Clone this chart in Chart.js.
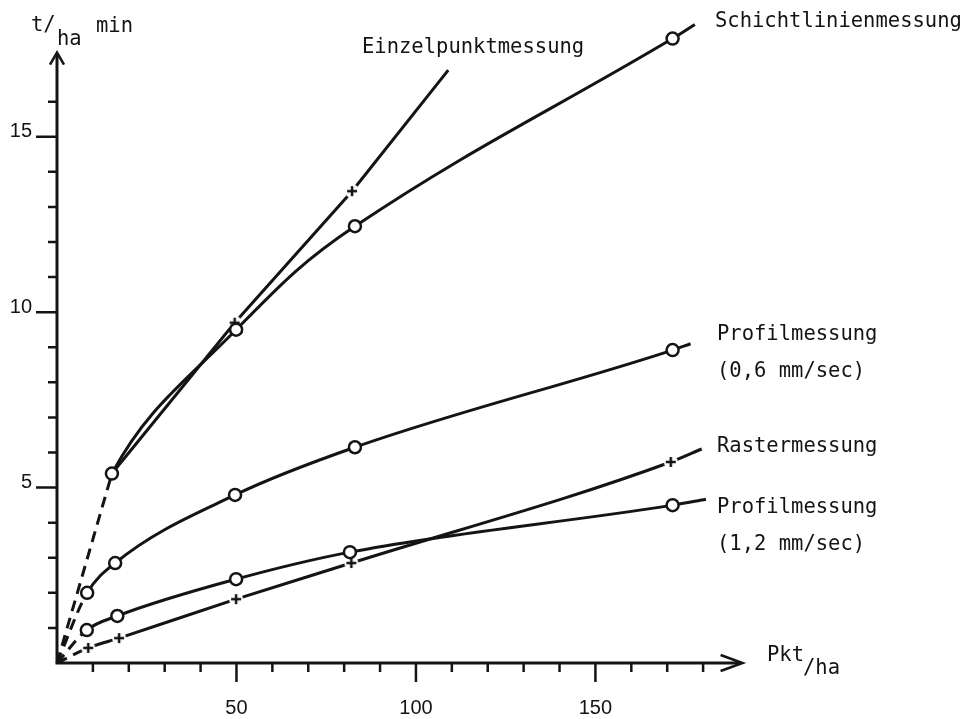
<!DOCTYPE html>
<html>
<head>
<meta charset="utf-8">
<script src="https://cdn.jsdelivr.net/npm/chart.js@4.4.1/dist/chart.umd.min.js"></script>
<style>
  html, body { margin: 0; padding: 0; background: #fff; }
  #wrap { width: 967px; height: 719px; }
</style>
</head>
<body>
<div id="wrap"><canvas id="chart" width="967" height="719"></canvas></div>
<script>
// values: x = Pkt/ha, y = t/ha in min
const einzelX = [0, 15.3, 49.5, 82.2, 109];
const einzelY = [0, 5.4, 9.7, 13.45, 16.9];

const schichtX = [0, 15.3, 49.9, 83, 171.5, 177.7];
const schichtY = [0, 5.4, 9.5, 12.45, 17.8, 18.2];

const profil06X = [0, 8.4, 16.2, 49.6, 83, 171.5, 176.5];
const profil06Y = [0, 2.0, 2.85, 4.79, 6.15, 8.92, 9.1];

const rasterX = [0, 8.7, 17.3, 49.9, 82, 171, 179.6];
const rasterY = [0, 0.43, 0.71, 1.82, 2.85, 5.73, 6.1];

const profil12X = [0, 8.3, 16.8, 49.9, 81.6, 171.5, 180.8];
const profil12Y = [0, 0.94, 1.34, 2.39, 3.16, 4.5, 4.67];

const xTickLabels = [50, 100, 150];
const yTickLabels = [5, 10, 15];

const ink = '#141414';
const monoFont = '"DejaVu Sans Mono", "Liberation Mono", monospace';

function toPoints(xs, ys) {
    return xs.map((x, i) => ({ x: x, y: ys[i] }));
}

// small "+" on a white disc, so the line gets a gap around it
function crossMarker() {
    const c = document.createElement('canvas');
    c.width = c.height = 16;
    const g = c.getContext('2d');
    g.fillStyle = '#fff';
    g.beginPath();
    g.arc(8, 8, 7, 0, Math.PI * 2);
    g.fill();
    g.strokeStyle = ink;
    g.lineWidth = 2.5;
    g.beginPath();
    g.moveTo(3, 8); g.lineTo(13, 8);
    g.moveTo(8, 3); g.lineTo(8, 13);
    g.stroke();
    return c;
}
const cross = crossMarker();

// marks on every point except the ones listed in skip and the free line end
function markRadius(skip) {
    return ctx => {
        const i = ctx.dataIndex;
        const last = ctx.dataset.data.length - 1;
        return (skip.includes(i) || i === last) ? 0 : 6;
    };
}

const dashFromOrigin = { borderDash: ctx => ctx.p0DataIndex === 0 ? [11, 7] : undefined };

const datasets = [
    {
        label: 'Einzelpunktmessung',
        data: toPoints(einzelX, einzelY),
        tension: 0,
        pointStyle: cross,
        pointRadius: markRadius([0, 1]),
        segment: dashFromOrigin,
        order: 3
    },
    {
        label: 'Schichtlinienmessung',
        data: toPoints(schichtX, schichtY),
        tension: 0.4,
        pointStyle: 'circle',
        pointRadius: markRadius([0]),
        // the first stretch is shared with Einzelpunktmessung (drawn dashed there)
        segment: { borderColor: ctx => ctx.p0DataIndex === 0 ? 'rgba(0,0,0,0)' : ink },
        order: 1
    },
    {
        label: 'Profilmessung (0,6 mm/sec)',
        data: toPoints(profil06X, profil06Y),
        cubicInterpolationMode: 'monotone',
        pointStyle: 'circle',
        pointRadius: markRadius([0]),
        segment: dashFromOrigin,
        order: 1
    },
    {
        label: 'Rastermessung',
        data: toPoints(rasterX, rasterY),
        cubicInterpolationMode: 'monotone',
        pointStyle: cross,
        pointRadius: markRadius([0]),
        segment: dashFromOrigin,
        order: 4
    },
    {
        label: 'Profilmessung (1,2 mm/sec)',
        data: toPoints(profil12X, profil12Y),
        cubicInterpolationMode: 'monotone',
        pointStyle: 'circle',
        pointRadius: markRadius([0]),
        segment: dashFromOrigin,
        order: 1
    }
].map(ds => Object.assign({
    borderColor: ink,
    borderWidth: 3,
    backgroundColor: '#fff',
    pointBackgroundColor: '#fff',
    pointBorderColor: ink,
    pointBorderWidth: 2.5,
    fill: false,
    clip: false
}, ds));

// axes with arrows, tick marks and the hand-lettered labels
const axesPlugin = {
    id: 'axes',
    afterDraw(chart) {
        const { ctx, scales: { x, y } } = chart;
        const x0 = x.getPixelForValue(0);
        const y0 = y.getPixelForValue(0);
        const yTop = y.getPixelForValue(17.4);
        const xEnd = x.getPixelForValue(191);

        ctx.save();
        ctx.strokeStyle = ink;
        ctx.lineCap = 'butt';

        ctx.lineWidth = 3;
        ctx.beginPath();
        ctx.moveTo(x0, y0 + 1.5);
        ctx.lineTo(x0, yTop + 2);
        ctx.moveTo(x0 - 1.5, y0);
        ctx.lineTo(xEnd - 2, y0);
        ctx.stroke();

        ctx.lineWidth = 2.5;
        ctx.beginPath();
        ctx.moveTo(x0 - 7, yTop + 12);
        ctx.lineTo(x0, yTop);
        ctx.lineTo(x0 + 7, yTop + 12);
        ctx.moveTo(xEnd - 22, y0 - 8);
        ctx.lineTo(xEnd, y0);
        ctx.lineTo(xEnd - 22, y0 + 8);
        ctx.stroke();

        ctx.beginPath();
        for (let v = 1; v <= 16; v++) {
            const py = y.getPixelForValue(v);
            const len = yTickLabels.includes(v) ? 21 : 9;
            ctx.moveTo(x0 - len, py);
            ctx.lineTo(x0, py);
        }
        for (let v = 10; v <= 180; v += 10) {
            const px = x.getPixelForValue(v);
            const len = xTickLabels.includes(v) ? 19 : 9;
            ctx.moveTo(px, y0);
            ctx.lineTo(px, y0 + len);
        }
        ctx.stroke();

        ctx.fillStyle = ink;
        ctx.textAlign = 'left';
        ctx.textBaseline = 'middle';
        ctx.font = '20.5px ' + monoFont;
        ctx.fillText('Schichtlinienmessung', 715, 22);
        ctx.fillText('Einzelpunktmessung', 362, 48);
        ctx.fillText('Profilmessung', 717, 335);
        ctx.fillText('(0,6 mm/sec)', 717, 372);
        ctx.fillText('Rastermessung', 717, 447);
        ctx.fillText('Profilmessung', 717, 508);
        ctx.fillText('(1,2 mm/sec)', 717, 545);

        ctx.fillText('t/', 31, 26);
        ctx.fillText('ha', 57, 40);
        ctx.fillText('min', 96, 27);

        ctx.fillText('Pkt', 767, 656);
        ctx.fillText('/ha', 803, 669);
        ctx.restore();
    }
};

function noScalePadding(s) {
    s.paddingTop = 0;
    s.paddingBottom = 0;
    s.paddingLeft = 0;
    s.paddingRight = 0;
}

new Chart(document.getElementById('chart'), {
    type: 'line',
    data: { datasets: datasets },
    plugins: [axesPlugin],
    options: {
        responsive: false,
        devicePixelRatio: 1,
        animation: false,
        layout: { padding: { left: 0, top: 14, right: 228, bottom: 0 } },
        plugins: {
            legend: { display: false },
            tooltip: { enabled: false }
        },
        scales: {
            x: {
                type: 'linear',
                min: 0,
                max: 190,
                grid: { display: false, drawTicks: false },
                border: { display: false },
                afterBuildTicks: s => { s.ticks = xTickLabels.map(v => ({ value: v })); },
                afterFit: s => { s.height = 56; noScalePadding(s); },
                ticks: {
                    color: ink,
                    padding: 33,
                    maxRotation: 0,
                    font: { family: '"Liberation Sans", Arial, sans-serif', size: 20 }
                }
            },
            y: {
                type: 'linear',
                min: 0,
                max: 18.5,
                grid: { display: false, drawTicks: false },
                border: { display: false },
                afterBuildTicks: s => { s.ticks = yTickLabels.map(v => ({ value: v })); },
                afterFit: s => { s.width = 57; noScalePadding(s); },
                ticks: {
                    color: ink,
                    padding: 25,
                    labelOffset: -5,
                    font: { family: '"Liberation Sans", Arial, sans-serif', size: 20 }
                }
            }
        }
    }
});
</script>
</body>
</html>
